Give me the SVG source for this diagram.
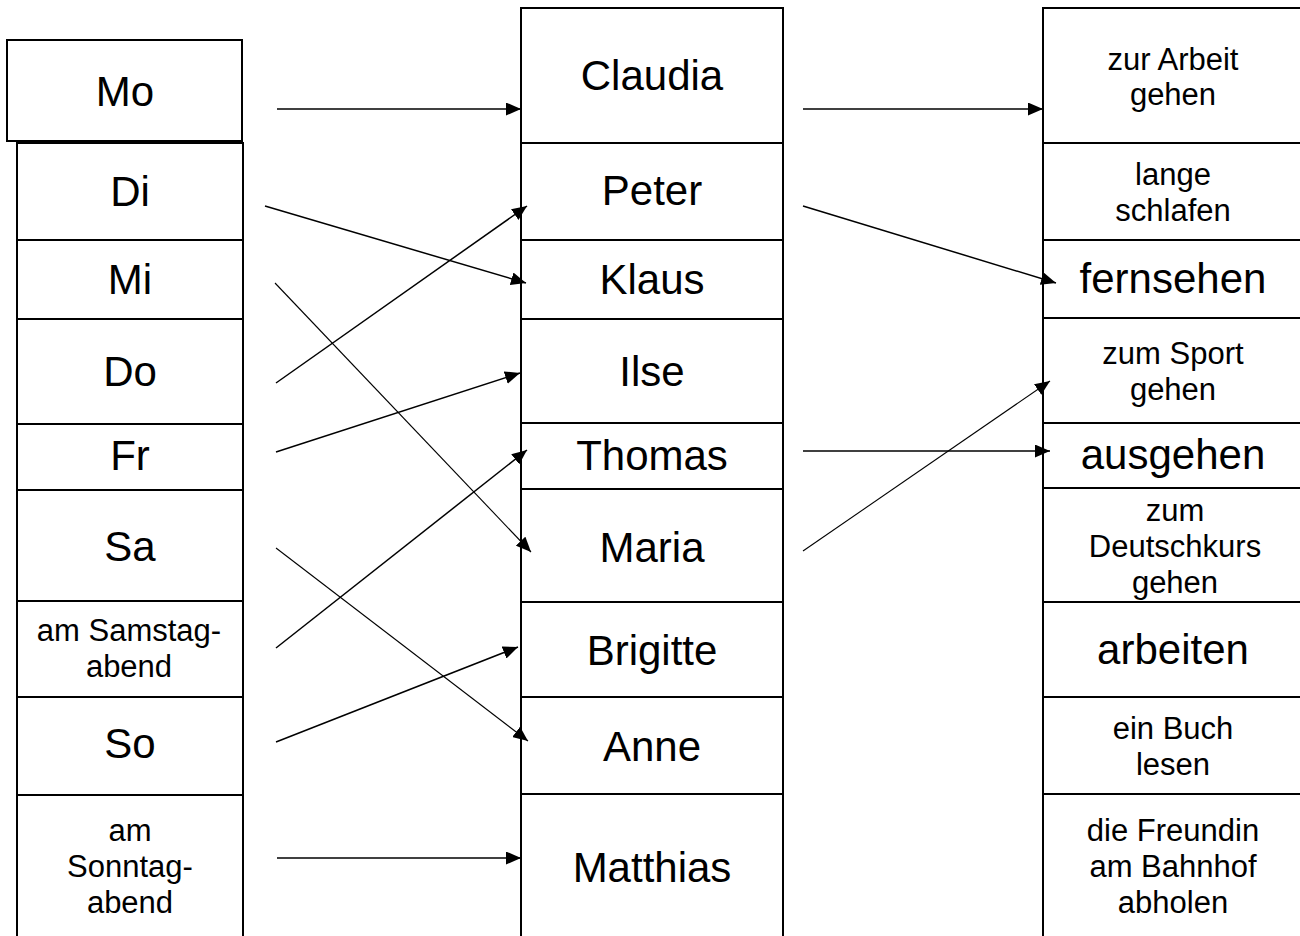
<svg xmlns="http://www.w3.org/2000/svg" width="1300" height="936" viewBox="0 0 1300 936">
<style>
.box{fill:#fff;stroke:#000;stroke-width:2}
.big{font-family:"Liberation Sans",Arial,sans-serif;font-size:42px;text-anchor:middle;fill:#000}
.sm{font-family:"Liberation Sans",Arial,sans-serif;font-size:31px;text-anchor:middle;fill:#000}
.ar{stroke:#000;stroke-width:1.5;fill:none;marker-end:url(#ah)}
.thin{stroke-width:1.1}
</style>
<defs>
<marker id="ah" markerUnits="userSpaceOnUse" markerWidth="16" markerHeight="13" refX="15" refY="6.5" orient="auto" viewBox="0 0 16 13">
<path d="M0,0 L15,6.5 L0,13 z" fill="#000"/>
</marker>
</defs>
<rect width="1300" height="936" fill="#fff"/>
<g id="left">
<g id="n-mo"><rect class="box" x="7" y="40" width="235" height="101"/><text class="big" x="125" y="106">Mo</text></g>
<g id="n-di"><rect class="box" x="17" y="143" width="226" height="97"/><text class="big" x="130" y="206">Di</text></g>
<g id="n-mi"><rect class="box" x="17" y="240" width="226" height="79"/><text class="big" x="130" y="294">Mi</text></g>
<g id="n-do"><rect class="box" x="17" y="319" width="226" height="105"/><text class="big" x="130" y="386">Do</text></g>
<g id="n-fr"><rect class="box" x="17" y="424" width="226" height="66"/><text class="big" x="130" y="470">Fr</text></g>
<g id="n-sa"><rect class="box" x="17" y="490" width="226" height="111"/><text class="big" x="130" y="561">Sa</text></g>
<g id="n-samabend"><rect class="box" x="17" y="601" width="226" height="96"/><text class="sm" x="129" y="641">am Samstag-</text><text class="sm" x="129" y="677">abend</text></g>
<g id="n-so"><rect class="box" x="17" y="697" width="226" height="98"/><text class="big" x="130" y="758">So</text></g>
<g id="n-sonabend"><rect class="box" x="17" y="795" width="226" height="145"/><text class="sm" x="130" y="841">am</text><text class="sm" x="130" y="877">Sonntag-</text><text class="sm" x="130" y="913">abend</text></g>
</g>
<g id="middle">
<g id="n-claudia"><rect class="box" x="521" y="8" width="262" height="135"/><text class="big" x="652" y="90">Claudia</text></g>
<g id="n-peter"><rect class="box" x="521" y="143" width="262" height="97"/><text class="big" x="652" y="205">Peter</text></g>
<g id="n-klaus"><rect class="box" x="521" y="240" width="262" height="79"/><text class="big" x="652" y="294">Klaus</text></g>
<g id="n-ilse"><rect class="box" x="521" y="319" width="262" height="104"/><text class="big" x="652" y="386">Ilse</text></g>
<g id="n-thomas"><rect class="box" x="521" y="423" width="262" height="66"/><text class="big" x="652" y="470">Thomas</text></g>
<g id="n-maria"><rect class="box" x="521" y="489" width="262" height="113"/><text class="big" x="652" y="562">Maria</text></g>
<g id="n-brigitte"><rect class="box" x="521" y="602" width="262" height="95"/><text class="big" x="652" y="665">Brigitte</text></g>
<g id="n-anne"><rect class="box" x="521" y="697" width="262" height="97"/><text class="big" x="652" y="761">Anne</text></g>
<g id="n-matthias"><rect class="box" x="521" y="794" width="262" height="146"/><text class="big" x="652" y="882">Matthias</text></g>
</g>
<g id="right">
<g id="n-arbeit"><rect class="box" x="1043" y="8" width="264" height="135"/><text class="sm" x="1173" y="70">zur Arbeit</text><text class="sm" x="1173" y="105">gehen</text></g>
<g id="n-schlafen"><rect class="box" x="1043" y="143" width="264" height="97"/><text class="sm" x="1173" y="185">lange</text><text class="sm" x="1173" y="221">schlafen</text></g>
<g id="n-fernsehen"><rect class="box" x="1043" y="240" width="264" height="78"/><text class="big" x="1173" y="293">fernsehen</text></g>
<g id="n-sport"><rect class="box" x="1043" y="318" width="264" height="105"/><text class="sm" x="1173" y="364">zum Sport</text><text class="sm" x="1173" y="400">gehen</text></g>
<g id="n-ausgehen"><rect class="box" x="1043" y="423" width="264" height="65"/><text class="big" x="1173" y="469">ausgehen</text></g>
<g id="n-deutschkurs"><rect class="box" x="1043" y="488" width="264" height="114"/><text class="sm" x="1175" y="521">zum</text><text class="sm" x="1175" y="557">Deutschkurs</text><text class="sm" x="1175" y="593">gehen</text></g>
<g id="n-arbeiten"><rect class="box" x="1043" y="602" width="264" height="95"/><text class="big" x="1173" y="664">arbeiten</text></g>
<g id="n-buch"><rect class="box" x="1043" y="697" width="264" height="97"/><text class="sm" x="1173" y="739">ein Buch</text><text class="sm" x="1173" y="775">lesen</text></g>
<g id="n-freundin"><rect class="box" x="1043" y="794" width="264" height="146"/><text class="sm" x="1173" y="841">die Freundin</text><text class="sm" x="1173" y="877">am Bahnhof</text><text class="sm" x="1173" y="913">abholen</text></g>
</g>
<g id="connectors">
<line class="ar" x1="277" y1="109" x2="521" y2="109"/>
<line class="ar" x1="803" y1="109" x2="1043" y2="109"/>
<line class="ar" x1="265" y1="206" x2="526" y2="283"/>
<line class="ar thin" x1="275" y1="283" x2="531" y2="552"/>
<line class="ar" x1="276" y1="383" x2="527" y2="206"/>
<line class="ar" x1="276" y1="452" x2="520" y2="373"/>
<line class="ar thin" x1="276" y1="548" x2="528" y2="741"/>
<line class="ar" x1="276" y1="648" x2="527" y2="450"/>
<line class="ar" x1="276" y1="742" x2="518" y2="647"/>
<line class="ar" x1="277" y1="858" x2="521" y2="858"/>
<line class="ar" x1="803" y1="206" x2="1056" y2="283"/>
<line class="ar" x1="803" y1="451" x2="1050" y2="451"/>
<line class="ar thin" x1="803" y1="551" x2="1050" y2="381"/>
</g>
</svg>
